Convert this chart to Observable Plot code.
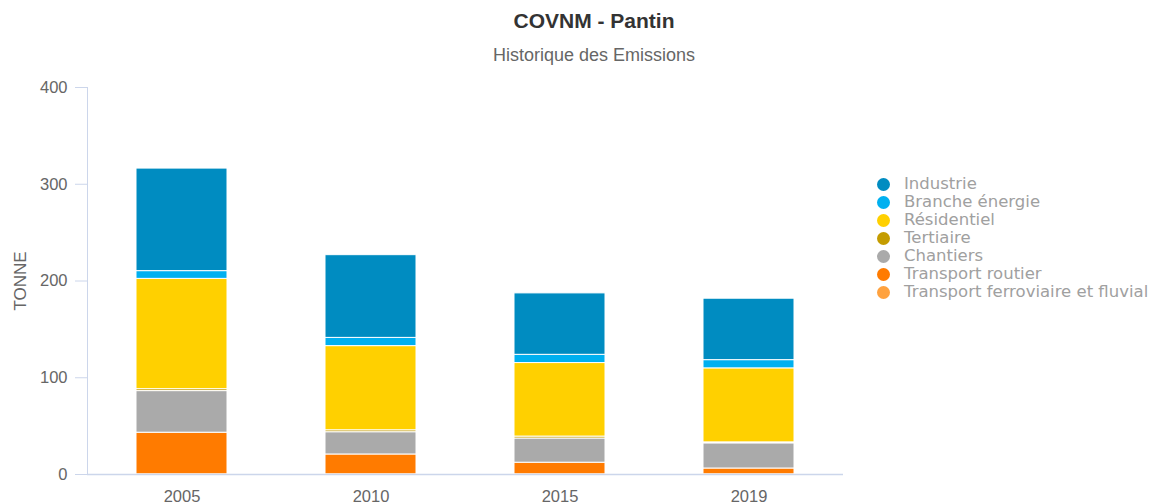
<!DOCTYPE html>
<html>
<head>
<meta charset="utf-8">
<script src="https://cdn.jsdelivr.net/npm/d3@7"></script>
<script src="https://cdn.jsdelivr.net/npm/@observablehq/plot@0.6"></script>
<style>
  html, body { margin: 0; padding: 0; background: #fff; }
  #wrap { position: relative; width: 1153px; height: 504px; overflow: hidden; font-family: "Liberation Sans", Arial, sans-serif; }
  #title { position: absolute; left: 594px; top: 9px; transform: translateX(-50%); font-size: 21px; font-weight: bold; color: #333; white-space: nowrap; }
  #subtitle { position: absolute; left: 594px; top: 45px; transform: translateX(-50%); font-size: 18px; color: #666; white-space: nowrap; }
  #chart { position: absolute; left: 0; top: 70px; }
  #legend { position: absolute; left: 877px; top: 175px; font-family: "DejaVu Sans", sans-serif; font-size: 16.5px; color: #a0a0a0; }
  .row { height: 18px; line-height: 18px; display: flex; align-items: center; white-space: nowrap; }
  .sw { width: 13px; height: 13px; border-radius: 50%; margin-right: 14px; flex: none; }
</style>
</head>
<body>
<div id="wrap">
  <div id="title"></div>
  <div id="subtitle"></div>
  <div id="chart"></div>
  <div id="legend"></div>
</div>
<script>
const titleText = "COVNM - Pantin";
const subtitleText = "Historique des Emissions";
const yLabel = "TONNE";
const years = ["2005", "2010", "2015", "2019"];
const yTicks = [0, 100, 200, 300, 400];

// Legend order (top to bottom)
const seriesNames = ["Industrie", "Branche énergie", "Résidentiel", "Tertiaire", "Chantiers", "Transport routier", "Transport ferroviaire et fluvial"];
const seriesColors = ["#008cc1", "#00b0f0", "#ffd000", "#c49c00", "#aaaaaa", "#ff7b00", "#ffa23f"];

// Values per series, per year (tonnes)
const industrie   = [106, 85.5, 63.5, 63.5];
const branche     = [8, 8.5, 8.5, 8.5];
const residentiel = [114, 87, 76, 76.5];
const tertiaire   = [2, 2, 2, 1];
const chantiers   = [43, 23, 25, 26];
const routier     = [43, 20.5, 12, 6];
const ferroviaire = [0.2, 0.2, 0.2, 0.2];

const seriesValues = [industrie, branche, residentiel, tertiaire, chantiers, routier, ferroviaire];

// Stack bottom-first (reverse of legend order)
const data = [];
for (let i = seriesNames.length - 1; i >= 0; i--) {
  years.forEach((yr, j) => data.push({ year: yr, category: seriesNames[i], value: seriesValues[i][j] }));
}

document.getElementById("title").textContent = titleText;
document.getElementById("subtitle").textContent = subtitleText;

const chart = Plot.plot({
  width: 1153,
  height: 434,
  marginTop: 17,
  marginBottom: 30,
  marginLeft: 87,
  marginRight: 310,
  style: { fontFamily: "Liberation Sans, Arial, sans-serif", background: "#fff", overflow: "visible" },
  x: { domain: years, paddingInner: 0.52, paddingOuter: 0.26 },
  y: { domain: [0, 400] },
  color: { domain: seriesNames, range: seriesColors },
  marks: [
    Plot.barY(data, { x: "year", y: "value", fill: "category", stroke: "white", strokeWidth: 1 }),
    Plot.ruleY([0], { stroke: "#ccd6eb", strokeWidth: 1.5 }),
    Plot.frame({ anchor: "left", stroke: "#ccd6eb", strokeOpacity: 1 }),
    Plot.axisX({ tickSize: 0, tickPadding: 16, fontSize: 16.5, color: "#666", label: null }),
    Plot.axisY({ ticks: yTicks, tickSize: 12, tickPadding: 8, fontSize: 16.5, color: "#666", stroke: "#ccd6eb", strokeOpacity: 1,
      label: yLabel, labelAnchor: "center", labelArrow: "none", labelOffset: 74 })
  ]
});
document.getElementById("chart").appendChild(chart);

// text colors; y-axis title size
chart.querySelectorAll("text").forEach(t => {
  if (!t.getAttribute("fill")) t.setAttribute("fill", "#666");
  if (t.textContent === yLabel) { t.setAttribute("font-size", "17"); t.style.fontSize = "17px"; }
});

const legend = document.getElementById("legend");
seriesNames.forEach((name, i) => {
  const row = document.createElement("div");
  row.className = "row";
  const sw = document.createElement("span");
  sw.className = "sw";
  sw.style.background = seriesColors[i];
  const lab = document.createElement("span");
  lab.textContent = name;
  row.appendChild(sw);
  row.appendChild(lab);
  legend.appendChild(row);
});
</script>
</body>
</html>
